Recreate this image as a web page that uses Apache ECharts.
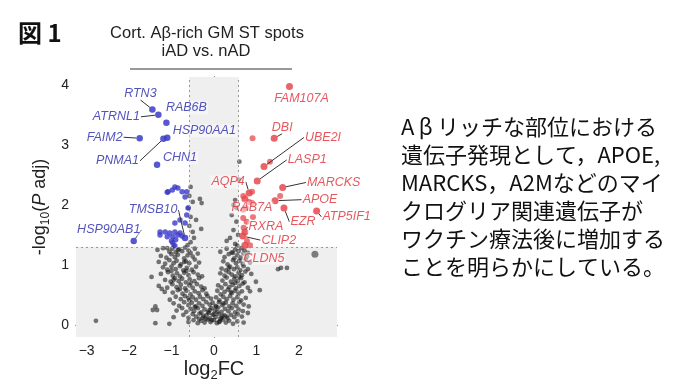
<!DOCTYPE html>
<html><head><meta charset="utf-8">
<script src="https://cdn.jsdelivr.net/npm/echarts@6/dist/echarts.min.js"></script>
<style>html,body{margin:0;padding:0;background:#fff}#c{width:690px;height:388px}</style>
</head><body><div id="c"></div>
<script>
// ---------------- data ----------------
const grayPoints = [
[-1.33,1.25],[-1.2,1.28],[-1.05,1.22],[-0.98,1.27],[-0.9,1.21],[-0.82,1.26],[-0.75,1.23],[-0.68,1.29],[-0.6,1.24],[-0.55,1.2],[-0.45,1.27],
[0.15,1.22],[0.3,1.27],[0.42,1.21],[0.5,1.26],[0.58,1.23],[0.65,1.28],[0.72,1.24],[0.8,1.2],
[-1.25,1.15],[-1.12,1.12],[-1.0,1.18],[-0.92,1.13],[-0.85,1.17],[-0.7,1.11],[-0.62,1.16],[-0.5,1.14],[-0.38,1.19],
[0.25,1.13],[0.35,1.18],[0.48,1.11],[0.55,1.16],[0.63,1.12],[0.7,1.19],[0.78,1.14],
[-1.3,1.05],[-1.15,1.02],[-1.05,1.08],[-0.95,1.03],[-0.88,1.07],[-0.78,1.01],[-0.66,1.06],[-0.58,1.03],[-0.45,1.09],[-0.35,1.04],
[0.22,1.06],[0.32,1.01],[0.45,1.08],[0.52,1.03],[0.6,1.07],[0.68,1.02],[0.75,1.09],[0.85,1.04],
[-1.2,0.96],[-1.1,0.92],[-1.0,0.97],[-0.9,0.93],[-0.8,0.98],[-0.72,0.91],[-0.64,0.95],[-0.52,0.92],[-0.42,0.97],
[0.18,0.94],[0.28,0.91],[0.38,0.97],[0.47,0.93],[0.55,0.96],[0.62,0.91],[0.7,0.98],[0.8,0.93],
[-1.25,0.85],[-1.08,0.88],[-0.97,0.82],[-0.87,0.86],[-0.8,0.81],[-0.7,0.87],[-0.6,0.83],[-0.48,0.88],[-0.38,0.84],[-0.28,0.81],
[0.15,0.86],[0.25,0.82],[0.35,0.88],[0.42,0.84],[0.5,0.81],[0.58,0.87],[0.66,0.83],[0.74,0.89],[0.88,0.85],
[-1.47,0.8],[-1.15,0.75],[-1.02,0.72],[-0.92,0.78],[-0.83,0.73],[-0.75,0.77],[-0.66,0.71],[-0.57,0.76],[-0.46,0.73],[-0.35,0.78],
[0.2,0.74],[0.3,0.79],[0.4,0.72],[0.48,0.77],[0.56,0.73],[0.64,0.78],[0.72,0.71],[0.99,0.72],
[-1.3,0.65],[-1.1,0.62],[-0.98,0.68],[-0.88,0.63],[-0.78,0.67],[-0.68,0.61],[-0.58,0.66],[-0.5,0.62],[-0.4,0.68],[-0.3,0.64],[-0.22,0.61],
[0.1,0.66],[0.18,0.62],[0.27,0.68],[0.36,0.63],[0.44,0.67],[0.52,0.61],[0.6,0.65],[0.68,0.69],[0.8,0.62],
[-1.23,0.6],[-1.16,0.55],[-0.97,0.54],[-0.85,0.58],[-0.74,0.52],[-0.65,0.57],[-0.55,0.51],[-0.45,0.56],[-0.36,0.53],[-0.27,0.58],[-0.18,0.52],
[0.08,0.57],[0.16,0.51],[0.25,0.55],[0.33,0.59],[0.42,0.53],[0.5,0.57],[0.58,0.52],[0.66,0.56],[0.85,0.56],[1.08,0.58],
[-1.04,0.42],[-0.9,0.47],[-0.78,0.43],[-0.68,0.48],[-0.58,0.41],[-0.5,0.46],[-0.42,0.42],[-0.33,0.47],[-0.25,0.43],[-0.15,0.48],[-0.07,0.44],
[0.05,0.46],[0.13,0.41],[0.22,0.47],[0.3,0.43],[0.38,0.48],[0.46,0.42],[0.55,0.46],[0.64,0.41],[0.75,0.45],
[-1.38,0.31],[-1.34,0.25],[-0.95,0.36],[-0.82,0.32],[-0.7,0.38],[-0.6,0.33],[-0.52,0.37],[-0.43,0.31],[-0.35,0.36],[-0.27,0.32],[-0.18,0.38],[-0.1,0.34],[-0.03,0.37],
[0.04,0.32],[0.12,0.38],[0.2,0.33],[0.28,0.37],[0.36,0.31],[0.44,0.36],[0.52,0.32],[0.6,0.38],[0.7,0.34],[0.82,0.31],
[-1.44,0.25],[-0.88,0.24],[-0.75,0.28],[-0.65,0.22],[-0.55,0.27],[-0.47,0.23],[-0.38,0.28],[-0.3,0.21],[-0.22,0.26],[-0.14,0.22],[-0.06,0.28],
[0.02,0.24],[0.1,0.29],[0.18,0.22],[0.26,0.27],[0.34,0.23],[0.42,0.28],[0.5,0.21],[0.58,0.26],[0.68,0.23],[0.8,0.2],
[-0.95,0.13],[-0.72,0.17],[-0.6,0.12],[-0.5,0.18],[-0.42,0.14],[-0.34,0.19],[-0.26,0.12],[-0.18,0.16],[-0.1,0.11],[-0.03,0.17],
[0.04,0.13],[0.11,0.18],[0.18,0.12],[0.25,0.16],[0.32,0.11],[0.4,0.17],[0.48,0.13],[0.56,0.18],[0.66,0.14],
[-2.78,0.07],[-1.38,0.03],[-1.05,0.02],[-0.6,0.05],[-0.48,0.08],[-0.38,0.03],[-0.3,0.07],[-0.22,0.04],[-0.15,0.09],[-0.08,0.05],
[0.0,0.08],[0.07,0.03],[0.14,0.06],[0.21,0.09],[0.28,0.04],[0.36,0.07],[0.45,0.02],[0.55,0.06],[0.7,0.04],
[-0.25,0.15],[-0.12,0.2],[0.0,0.18],[0.08,0.22],[0.15,0.1],[-0.05,0.08],[0.12,0.05],[0.2,0.15],[-0.2,0.1],[0.3,0.14],[-0.35,0.1],[0.05,0.3],[-0.1,0.25],[0.22,0.36],[-0.45,0.3],
[-0.6,0.45],[-0.8,0.6],[-0.95,0.75],[-0.55,0.7],[0.4,0.55],[0.5,0.7],[0.6,0.8],[0.35,0.95],[0.45,1.2],[-1.0,0.9],[-0.65,0.9],[-0.7,1.05],[-0.85,1.25],[-1.1,1.28],
[1.51,0.93],[1.58,0.95],[1.72,0.95],
[-0.55,2.3],[-0.5,2.05],[-0.33,2.1],[-0.29,2.03],[-0.55,1.8],[-0.42,1.75],[-0.5,1.55],[-0.47,1.45],[-0.55,1.38],[-0.3,1.6],[-0.58,2.15],[-0.6,1.95],[-0.58,1.65],[-0.62,1.33],[-0.95,1.32],
[0.6,2.72],[0.59,2.42],[0.5,2.08],[0.46,2.0],[0.53,1.95],[0.42,1.83],[0.53,1.72],[0.46,1.58],[0.57,1.5],[0.38,1.45],[0.5,1.35],[0.3,1.4],[0.55,1.32]
];
const grayOutlier = [[2.38,1.18]];
const bluePoints = [
[-1.08,2.22],[-0.92,2.3],[-0.98,2.25],[-0.85,2.28],[-0.75,2.22],[-0.64,2.22],[-1.1,2.21],[-0.68,2.13],[-0.61,1.95],[-0.64,1.83],[-0.68,1.7],[-0.92,1.7],[-0.8,1.75],
[-1.27,1.55],[-1.15,1.55],[-1.04,1.53],[-0.92,1.55],[-0.8,1.53],[-1.27,1.5],[-1.1,1.47],[-0.97,1.47],[-0.85,1.5],[-0.75,1.48],[-0.97,1.37],[-0.92,1.32],[-1.0,1.4],[-0.9,1.42]
];
const redPoints = [
[0.91,3.11],[1.32,2.72],[0.9,2.22],[1.56,2.15],[0.69,2.15],[0.83,2.05],[0.9,2.03],[0.75,1.95],[0.69,1.92],[0.92,1.8],[0.77,1.72],[0.69,1.78],[0.7,1.62],[0.85,1.33],[0.78,1.4]
];
const blueGenes = ["RTN3","ATRNL1","RAB6B","FAIM2","HSP90AA1","PNMA1","CHN1","TMSB10","HSP90AB1"];
const blueGeneFC = [-1.45,-1.31,-1.12,-1.75,-1.1,-1.19,-1.34,-0.68,-1.89];
const blueGeneP = [3.59,3.5,3.37,3.11,3.12,3.1,2.67,1.45,1.4];
const redGenes = ["FAM107A","DBI","UBE2I","LASP1","AQP4","MARCKS","APOE","EZR","ATP5IF1","RAB7A","RXRA","CLIP2","CLDN5"];
const redGeneFC = [1.78,1.42,1.18,1.02,0.83,1.62,1.44,1.65,2.42,0.73,0.73,0.68,0.73];
const redGeneP = [3.97,3.11,2.64,2.4,2.2,2.29,2.07,1.95,1.9,2.1,1.55,1.48,1.33];
const xTicks = [-3,-2,-1,0,1,2];
const yTicks = [0,1,2,3,4];
const fcCut = 0.585, padjCut = 1.301;
const titleLines = ["Cort. A\u03b2-rich GM ST spots","iAD vs. nAD"];
const noteLines = ["A\u2009\u03b2\u2009リッチな部位における","遺伝子発現として，APOE,","MARCKS，A2Mなどのマイ","クログリア関連遺伝子が","ワクチン療法後に増加する","ことを明らかにしている。"];

// label placement (pixel offsets from the point) and guide-line flags
const blueLabelOffset = [[-12,-16],[-42,2],[20,-15],[-35,-1],[37,-7],[-46,22],[23,-7],[-32,-28],[-25,-11]];
const blueLabelLine = [true,true,false,true,false,true,false,true,true];
const redLabelOffset = [[12,12],[8,-11],[59,-29],[50,-21],[-21,-11],[51,-5],[45,-1],[19,14],[30,6],[7,9],[21,-5],[36,4],[19,13]];
const redLabelLine = [false,true,true,true,true,true,true,true,true,false,true,true,false];

const BLUE = '#3a3ac8', RED = '#e5484d';
const chart = echarts.init(document.getElementById('c'), null, {renderer:'canvas'});
function labeled(names, xs, ys, lineFlags){
  return names.map((n,i)=>({name:n, value:[xs[i],ys[i]], labelLine:{show:lineFlags[i]}}));
}
const labelBase = {show:true, position:'inside', formatter:'{b}', fontFamily:'Liberation Sans', fontStyle:'italic', fontSize:12.5,
  backgroundColor:'rgba(255,255,255,0.55)', padding:[0,1]};
const option = {
  animation:false,
  grid:{left:76, right:353, top:77, bottom:51},
  xAxis:{type:'value', min:-3.25, max:2.9,
    axisLine:{lineStyle:{color:'#555', width:1.3}},
    axisTick:{customValues:xTicks, length:4, lineStyle:{color:'#555'}},
    axisLabel:{customValues:xTicks, color:'#222', fontSize:14, fontFamily:'Liberation Sans', margin:7, formatter:v=>String(v).replace('-','\u2212')},
    splitLine:{show:false}},
  yAxis:{type:'value', min:-0.2, max:4.13,
    axisLine:{show:true, lineStyle:{color:'#555', width:1.3}},
    axisTick:{show:true, customValues:yTicks, length:4, lineStyle:{color:'#555'}},
    axisLabel:{customValues:yTicks, color:'#222', fontSize:14, fontFamily:'Liberation Sans', margin:7},
    splitLine:{show:false}},
  series:[
    {type:'scatter', data:[], z:1, silent:true,
      markArea:{silent:true, itemStyle:{color:'#efefef'}, data:[
        [{xAxis:-fcCut},{xAxis:fcCut}],
        [{yAxis:-0.2},{yAxis:padjCut}]
      ]},
      markLine:{silent:true, symbol:'none', label:{show:false}, lineStyle:{color:'#999', type:[2,3], width:1}, data:[
        {xAxis:-fcCut},{xAxis:fcCut},{yAxis:padjCut}
      ]}},
    {type:'scatter', data:grayPoints, symbolSize:4.8, z:3, itemStyle:{color:'rgba(20,20,20,0.72)'}},
    {type:'scatter', data:grayOutlier, symbolSize:7, z:3, itemStyle:{color:'rgba(60,60,60,0.8)'}},
    {type:'scatter', data:bluePoints, symbolSize:5.5, z:4, itemStyle:{color:BLUE, opacity:0.8}},
    {type:'scatter', data:redPoints, symbolSize:6, z:4, itemStyle:{color:RED, opacity:0.75}},
    {type:'scatter', data:labeled(blueGenes,blueGeneFC,blueGeneP,blueLabelLine), symbolSize:6.5, z:5,
      itemStyle:{color:BLUE, opacity:0.85},
      label:Object.assign({}, labelBase, {color:'#3535b0'}),
      labelLine:{show:true, lineStyle:{color:'#333', width:1}},
      labelLayout:p=>({dx:blueLabelOffset[p.dataIndex][0], dy:blueLabelOffset[p.dataIndex][1]})},
    {type:'scatter', data:labeled(redGenes,redGeneFC,redGeneP,redLabelLine), symbolSize:7, z:5,
      itemStyle:{color:RED, opacity:0.85},
      label:Object.assign({}, labelBase, {color:'#e03c42'}),
      labelLine:{show:true, lineStyle:{color:'#333', width:1}},
      labelLayout:p=>({dx:redLabelOffset[p.dataIndex][0], dy:redLabelOffset[p.dataIndex][1]})}
  ],
  graphic:[
    {type:'text', left:18, top:21, style:{text:'図 1', font:"bold 24px 'Noto Sans CJK JP'", fill:'#111'}},
    {type:'text', x:207, y:33, style:{text:titleLines[0], font:"16.5px 'Liberation Sans'", fill:'#222', align:'center', verticalAlign:'middle'}},
    {type:'text', x:206, y:51, style:{text:titleLines[1], font:"16.5px 'Liberation Sans'", fill:'#222', align:'center', verticalAlign:'middle'}},
    {type:'line', shape:{x1:130, y1:69, x2:292, y2:69}, style:{stroke:'#333', lineWidth:1}},
    {type:'text', x:40, y:207, rotation:Math.PI/2, style:{text:'-log{sub|10}({it|P} adj)', align:'center', verticalAlign:'middle',
      font:"18px 'Liberation Sans'", fill:'#222',
      rich:{sub:{fontSize:12, fontFamily:'Liberation Sans', verticalAlign:'bottom', lineHeight:24, fill:'#222'}, it:{fontStyle:'italic', fontSize:18, fontFamily:'Liberation Sans', fill:'#222'}}}},
    {type:'text', x:214, y:369, style:{text:'log{sub|2}FC', align:'center', verticalAlign:'middle',
      font:"20px 'Liberation Sans'", fill:'#222',
      rich:{sub:{fontSize:13, fontFamily:'Liberation Sans', verticalAlign:'bottom', lineHeight:26, fill:'#222'}}}},
    {type:'text', x:401, y:113, style:{text:noteLines.join('\n'), font:"22px 'Noto Sans CJK JP'", lineHeight:28, fill:'#111'}}
  ]
};
chart.setOption(option);
</script></body></html>
